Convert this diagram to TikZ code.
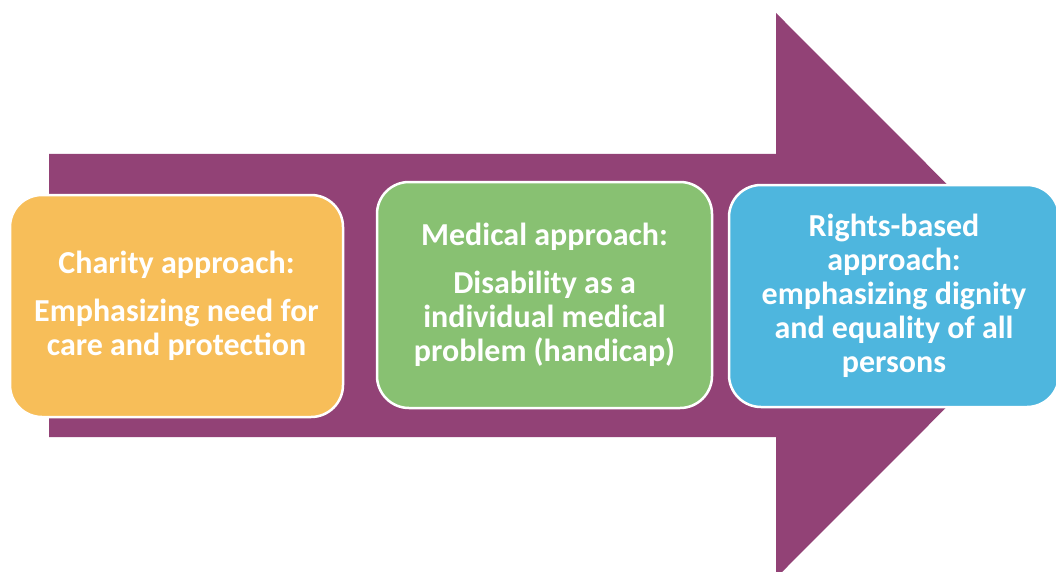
\documentclass[tikz,border=0pt]{standalone}
\usepackage{fontspec}
\setmainfont{Carlito}
\usetikzlibrary{positioning}
\definecolor{arrowplum}{HTML}{924276}
\definecolor{charityorange}{HTML}{F7BE59}
\definecolor{medicalgreen}{HTML}{88C172}
\definecolor{rightsblue}{HTML}{4EB6DE}
\tikzset{stage/.style={draw=white, line width=2.5pt, rounded corners=32pt,
    text=white, font=\bfseries\fontsize{32}{34}\selectfont, align=center,
    inner sep=0pt}}

\begin{document}
\begin{tikzpicture}[x=1pt,y=-1pt]
    \useasboundingbox (0,0) rectangle (1056,572);

    % Big arrow behind the stages
    \fill[arrowplum] (49,154) -- (776,154) -- (776,13) -- (1058,295.5)
        -- (776,578) -- (776,437) -- (49,437) -- cycle;

    % Stages
    \node[stage, fill=charityorange, minimum width=333pt, minimum height=222pt]
        (charity) at (176.5,306)
        {Charity approach:\\[14pt] Emphasizing need for\\ care and protection};
    \node[stage, fill=medicalgreen, minimum width=335pt, minimum height=226pt]
        (medical) at (544.5,295)
        {Medical approach:\\[14pt] Disability as a\\ individual medical\\
         problem (handicap)};
    \node[stage, fill=rightsblue, minimum width=330pt, minimum height=222pt]
        (rights) at (894,296)
        {Rights-based\\ approach:\\ emphasizing dignity\\ and equality of all\\
         persons};
\end{tikzpicture}
\end{document}
